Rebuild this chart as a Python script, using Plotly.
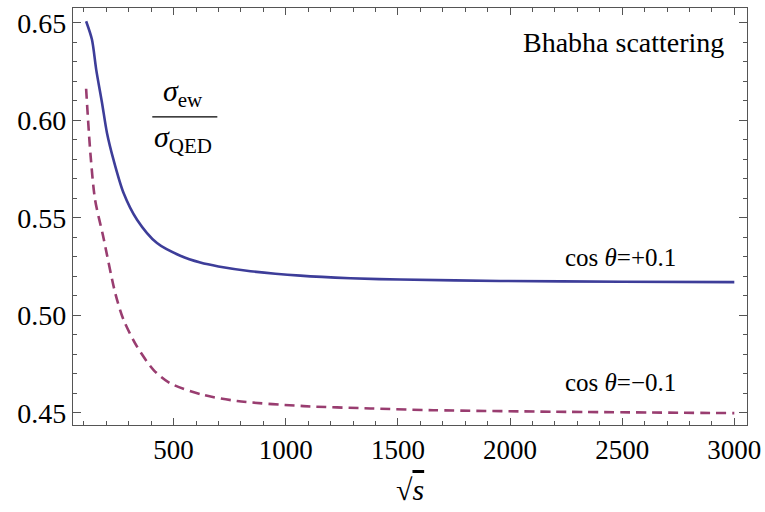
import plotly.graph_objects as go

# Data
sqrt_s_plus = [110, 136, 155, 181, 203, 232, 277, 337, 426, 530, 619, 700, 843, 1065, 1288, 1511, 1957, 2500, 3000]
ratio_plus = [0.6508, 0.6414, 0.6260, 0.6089, 0.5935, 0.5798, 0.5627, 0.5490, 0.5370, 0.5305, 0.5270, 0.5250,
              0.5226, 0.5203, 0.5190, 0.5183, 0.5176, 0.5172, 0.5170]

sqrt_s_minus = [110, 129, 150, 185, 240, 277, 337, 411, 485, 634, 783, 1080, 1377, 1658, 2200, 3000]
ratio_minus = [0.6162, 0.5832, 0.5592, 0.5410, 0.5113, 0.4976, 0.4839, 0.4719, 0.4651, 0.4591, 0.4560,
               0.4534, 0.4522, 0.4513, 0.4505, 0.4498]

x_ticks = [500, 1000, 1500, 2000, 2500, 3000]
y_ticks = [0.45, 0.50, 0.55, 0.60, 0.65]
y_tick_text = ["0.45", "0.50", "0.55", "0.60", "0.65"]

FONT = "Liberation Serif"
BLUE = "#3d3d99"
PURPLE = "#993d70"
FRAME = "#555555"

fig = go.Figure()
fig.add_trace(go.Scatter(x=sqrt_s_plus, y=ratio_plus, mode="lines",
                         line=dict(color=BLUE, width=2.6, shape="spline", smoothing=0.8),
                         showlegend=False, hoverinfo="skip"))
fig.add_trace(go.Scatter(x=sqrt_s_minus, y=ratio_minus, mode="lines",
                         line=dict(color=PURPLE, width=2.6, dash="10px,6px", shape="spline", smoothing=0.8),
                         showlegend=False, hoverinfo="skip"))

fig.update_xaxes(range=[51.5, 3056.6], tickmode="array", tickvals=x_ticks, ticktext=[str(v) for v in x_ticks],
                 ticklen=7, showgrid=False, zeroline=False, showline=True, linecolor=FRAME, linewidth=1.2,
                 mirror="allticks", ticks="inside", tickcolor=FRAME, tickwidth=1,
                 tickfont=dict(family=FONT, size=27, color="black"),
                 automargin=False,
                 minor=dict(ticks="inside", dtick=100, tick0=0, ticklen=4, tickcolor=FRAME, showgrid=False))
fig.update_yaxes(range=[0.4437, 0.6576], tickmode="array", tickvals=y_ticks, ticktext=y_tick_text,
                 ticklen=8, showgrid=False, zeroline=False, showline=True, linecolor=FRAME, linewidth=1.2,
                 mirror="allticks", ticks="inside", tickcolor=FRAME, tickwidth=1,
                 tickfont=dict(family=FONT, size=28, color="black"),
                 automargin=False,
                 minor=dict(ticks="inside", dtick=0.01, tick0=0, ticklen=4, tickcolor=FRAME, showgrid=False))

# x-axis title sqrt(s)
fig.add_annotation(x=0.5, y=-0.155, xref="paper", yref="paper",
                   text="√<span style='text-decoration:overline'><i>s</i></span>",
                   showarrow=False, xanchor="center", yanchor="middle",
                   font=dict(family=FONT, size=30, color="black"))

ann_font = dict(family=FONT, size=25, color="black")
fig.add_annotation(x=2965, y=0.6399, xref="x", yref="y", text="Bhabha scattering",
                   showarrow=False, xanchor="right", yanchor="middle",
                   font=dict(family=FONT, size=28, color="black"))
fig.add_annotation(x=2491, y=0.5295, xref="x", yref="y", text="cos <i>θ</i>=+0.1",
                   showarrow=False, xanchor="center", yanchor="middle", font=ann_font)
fig.add_annotation(x=2491, y=0.4653, xref="x", yref="y", text="cos <i>θ</i>=−0.1",
                   showarrow=False, xanchor="center", yanchor="middle", font=ann_font)

# fraction sigma_ew / sigma_QED
fig.add_annotation(x=543, y=0.6140, xref="x", yref="y", text="<i>σ</i><sub>ew</sub>",
                   showarrow=False, xanchor="center", yanchor="middle",
                   font=dict(family=FONT, size=30, color="black"))
fig.add_annotation(x=543, y=0.5905, xref="x", yref="y", text="<i>σ</i><sub>QED</sub>",
                   showarrow=False, xanchor="center", yanchor="middle",
                   font=dict(family=FONT, size=30, color="black"))
fig.add_shape(type="line", xref="x", yref="y", x0=405, x1=695, y0=0.6018, y1=0.6018,
              line=dict(color="black", width=1.2))

fig.update_layout(width=765, height=512, plot_bgcolor="white", paper_bgcolor="white",
                  font=dict(family=FONT, size=26, color="black"),
                  margin=dict(l=73, r=18, t=8, b=87, autoexpand=False))

fig.write_html("out.html", config={"displayModeBar": False},
               post_script="document.body.style.margin='0';document.body.style.padding='0';")
